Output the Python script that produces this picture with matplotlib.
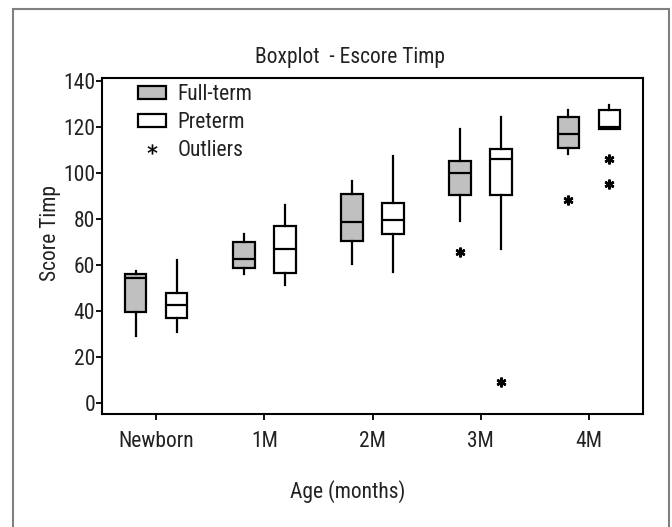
import matplotlib
matplotlib.use('Agg')
import matplotlib.pyplot as plt
from matplotlib.patches import Patch, Rectangle
from matplotlib.lines import Line2D

plt.rcParams['font.family'] = ['Roboto Condensed', 'DejaVu Sans']

ages = ['Newborn', '1M', '2M', '3M', '4M']

# full-term box stats
ft_whislo = [29, 56, 60.5, 79, 108]
ft_q1 = [39.6, 58.6, 70.4, 90.5, 110.7]
ft_med = [54.5, 62.5, 78.8, 99.8, 117.0]
ft_q3 = [56, 70, 90.7, 105.3, 124.4]
ft_whishi = [57.4, 73.4, 96.6, 119.2, 127.3]
ft_out = [[], [], [], [65.8], [88.2]]

# preterm
pt_whislo = [30.9, 51.2, 57.1, 67.0, 119.1]
pt_q1 = [37.0, 56.6, 73.5, 90.5, 119.1]
pt_med = [42.5, 67.0, 79.4, 105.9, 120.0]
pt_q3 = [47.6, 77.0, 87.1, 110.2, 127.3]
pt_whishi = [62.2, 86.0, 107.3, 124.4, 129.3]
pt_out = [[], [], [], [9.2], [106.0, 95.2]]


def stats(lo, q1, med, q3, hi, out):
    res = []
    for i in range(len(lo)):
        res.append({'whislo': lo[i], 'q1': q1[i], 'med': med[i], 'q3': q3[i],
                    'whishi': hi[i], 'fliers': out[i]})
    return res


fig = plt.figure(figsize=(6.72, 5.27), dpi=100)
ax = fig.add_axes([102 / 672, 1 - 414 / 527, 541 / 672, 336 / 527])

lw = 1.6
fs = 15.5
flier = dict(marker=(6, 2, 0), markersize=7, markeredgewidth=1.8,
             markeredgecolor='black', linestyle='none')
common = dict(widths=0.2, patch_artist=True, showcaps=False,
              medianprops=dict(color='black', linewidth=lw),
              whiskerprops=dict(color='black', linewidth=lw),
              flierprops=flier, manage_ticks=False)

pos = list(range(len(ages)))
ax.bxp(stats(ft_whislo, ft_q1, ft_med, ft_q3, ft_whishi, ft_out),
       positions=[p - 0.19 for p in pos],
       boxprops=dict(facecolor='#c0c0c0', edgecolor='black', linewidth=lw),
       **common)
ax.bxp(stats(pt_whislo, pt_q1, pt_med, pt_q3, pt_whishi, pt_out),
       positions=[p + 0.19 for p in pos],
       boxprops=dict(facecolor='white', edgecolor='black', linewidth=lw),
       **common)

ax.set_xlim(-0.5, 4.5)
ax.set_ylim(-4.8, 141.2)
ax.set_xticks(pos)
ax.set_xticklabels(ages)
ax.set_yticks(range(0, 141, 20))
for s in ax.spines.values():
    s.set_linewidth(1.5)
ax.tick_params(direction='out', length=4, width=1.3, labelsize=fs,
               labelcolor='#222222')
ax.tick_params(axis='x', pad=8)
ax.tick_params(axis='y', pad=1)

handles = [Patch(facecolor='#c0c0c0', edgecolor='black', linewidth=lw),
           Patch(facecolor='white', edgecolor='black', linewidth=lw),
           Line2D([], [], marker='$*$', color='black', linestyle='none',
                  markersize=7, markeredgewidth=0.3)]
leg = ax.legend(handles, ['Full-term', 'Preterm', 'Outliers'], loc='upper left',
                bbox_to_anchor=(0.05, 1.008), frameon=False, fontsize=fs,
                handlelength=1.3, handleheight=0.55, handletextpad=0.55,
                labelspacing=0.32, borderaxespad=0)
for t in leg.get_texts():
    t.set_color('#222222')

fig.text(350 / 672, 1 - 57 / 527, 'Boxplot  - Escore Timp', ha='center',
         va='center', fontsize=fs, color='#222222')
fig.text(51 / 672, 1 - 233 / 527, 'Score Timp', ha='center', va='center',
         rotation=90, fontsize=fs, color='#222222')
fig.text(348 / 672, 1 - 492 / 527, 'Age (months)', ha='center', va='center',
         fontsize=fs, color='#222222')

# grey outer frame
fig.patches.append(Rectangle((13 / 672, -0.05), 656 / 672, 1.05 - 9 / 527,
                             transform=fig.transFigure, fill=False,
                             edgecolor='#808080', linewidth=1.5))

fig.savefig('out.png', dpi=100)
